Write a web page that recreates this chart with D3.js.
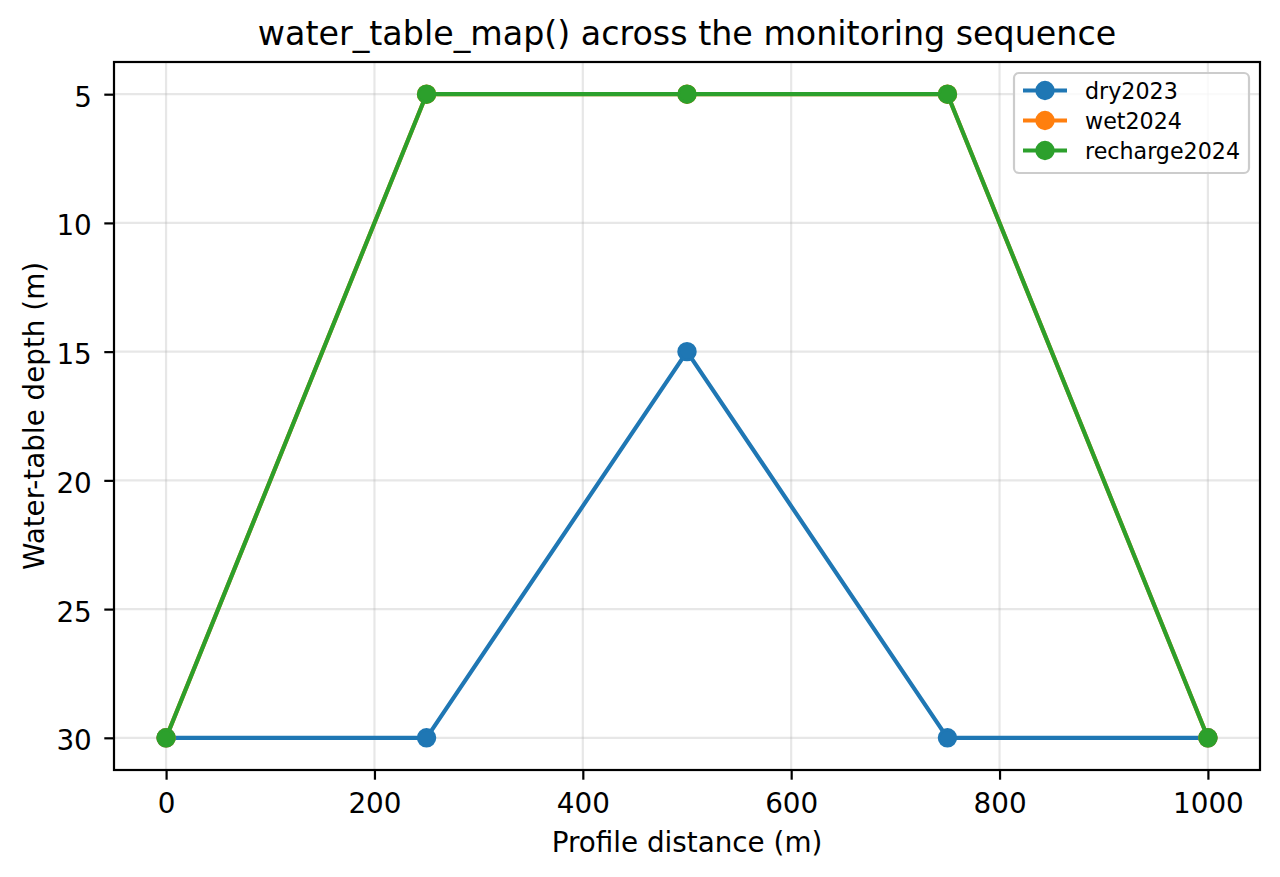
<!DOCTYPE html>
<html><head><meta charset="utf-8">
<script src="https://cdn.jsdelivr.net/npm/d3@7"></script>
<style>body{margin:0;background:#fff}svg{display:block}text{font-family:"DejaVu Sans",sans-serif;fill:#000}</style>
</head><body>
<svg id="c" width="1280" height="877"></svg>
<script>
const distances = [0, 250, 500, 750, 1000];
const seriesNames = ["dry2023", "wet2024", "recharge2024"];
const dry2023 = [30, 30, 15, 30, 30];
const wet2024 = [30, 5, 5, 5, 30];
const recharge2024 = [30, 5, 5, 5, 30];
const xTicks = [0, 200, 400, 600, 800, 1000];
const yTicks = [5, 10, 15, 20, 25, 30];
const colors = ["#1f77b4", "#ff7f0e", "#2ca02c"];
const titleText = "water_table_map() across the monitoring sequence";
const xLabel = "Profile distance (m)";
const yLabel = "Water-table depth (m)";

const series = [dry2023, wet2024, recharge2024];
const svg = d3.select("#c");
const L = 114, R = 1260, T = 62, B = 770;
const x = d3.scaleLinear().domain([-50, 1050]).range([L, R]);
const y = d3.scaleLinear().domain([3.75, 31.25]).range([T, B]);

// grid
const g = svg.append("g");
g.selectAll(".gx").data(xTicks).join("line")
  .attr("x1", d => x(d)).attr("x2", d => x(d)).attr("y1", T).attr("y2", B)
  .attr("stroke", "#b0b0b0").attr("stroke-opacity", 0.3).attr("stroke-width", 2.2);
g.selectAll(".gy").data(yTicks).join("line")
  .attr("y1", d => y(d)).attr("y2", d => y(d)).attr("x1", L).attr("x2", R)
  .attr("stroke", "#b0b0b0").attr("stroke-opacity", 0.3).attr("stroke-width", 2.2);

// lines
const line = d3.line().x((d, i) => x(distances[i])).y(d => y(d));
series.forEach((s, k) => {
  svg.append("path").datum(s).attr("d", line).attr("fill", "none")
    .attr("stroke", colors[k]).attr("stroke-width", 4.17).attr("stroke-linejoin", "round").attr("stroke-linecap", "square");
  svg.selectAll(null).data(s).join("circle")
    .attr("cx", (d, i) => x(distances[i])).attr("cy", d => y(d)).attr("r", 8.33)
    .attr("fill", colors[k]).attr("stroke", colors[k]).attr("stroke-width", 2.78);
});

// axes
const xAxis = d3.axisBottom(x).tickValues(xTicks).tickSize(9.7).tickPadding(14).tickFormat(d3.format("d"));
const yAxis = d3.axisLeft(y).tickValues(yTicks).tickSize(9.7).tickPadding(12.5).tickFormat(d3.format("d"));
const gx = svg.append("g").attr("transform", `translate(0,${B})`).call(xAxis);
const gy = svg.append("g").attr("transform", `translate(${L},0)`).call(yAxis);
[gx, gy].forEach(a => {
  a.select(".domain").remove();
  a.selectAll(".tick line").attr("stroke", "#000").attr("stroke-width", 2.2);
  a.selectAll(".tick text").attr("font-size", 27.8).attr("font-family", "DejaVu Sans").attr("fill", "#000");
});
gy.selectAll(".tick text").attr("dy", "0.43em");
svg.append("rect").attr("x", L).attr("y", T).attr("width", R - L).attr("height", B - T)
  .attr("fill", "none").attr("stroke", "#000").attr("stroke-width", 2.2);

// texts
svg.append("text").attr("x", (L + R) / 2).attr("y", 45).attr("text-anchor", "middle")
  .attr("font-size", 33.3).text(titleText);
svg.append("text").attr("x", (L + R) / 2).attr("y", 852).attr("text-anchor", "middle")
  .attr("font-size", 27.8).text(xLabel);
svg.append("text").attr("transform", `translate(43.5,${(T + B) / 2}) rotate(-90)`).attr("text-anchor", "middle")
  .attr("font-size", 27.8).text(yLabel);

// legend
const lg = svg.append("g");
lg.append("rect").attr("x", 1014).attr("y", 73).attr("width", 235).attr("height", 100).attr("rx", 5)
  .attr("fill", "#fff").attr("fill-opacity", 0.8).attr("stroke", "#cccccc").attr("stroke-width", 2.2);
const rowY = [90.5, 120.5, 150.5];
seriesNames.forEach((n, k) => {
  lg.append("line").attr("x1", 1023).attr("x2", 1067).attr("y1", rowY[k]).attr("y2", rowY[k])
    .attr("stroke", colors[k]).attr("stroke-width", 4.17);
  lg.append("circle").attr("cx", 1045).attr("cy", rowY[k]).attr("r", 8.33)
    .attr("fill", colors[k]).attr("stroke", colors[k]).attr("stroke-width", 2.78);
  lg.append("text").attr("x", 1085).attr("y", rowY[k] + 8).attr("font-size", 22.2).text(n);
});
</script>
</body></html>
